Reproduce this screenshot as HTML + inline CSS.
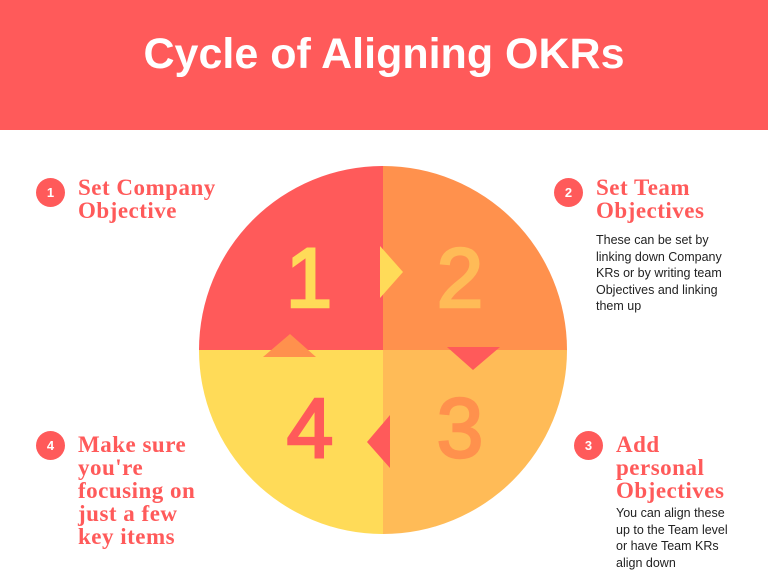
<!DOCTYPE html>
<html><head><meta charset="utf-8"><style>
body{margin:0;width:768px;height:576px;background:#fff;position:relative;overflow:hidden;font-family:"Liberation Sans",sans-serif}
.hdr{position:absolute;left:0;top:0;width:768px;height:130px;background:#ff5a5a}
.hdr h1{margin:0;position:absolute;top:30px;width:100%;text-align:center;color:#fff;font-size:43px;font-weight:bold}
.b{position:absolute;width:29px;height:29px;border-radius:50%;background:#ff5a5a;color:#fff;font-weight:bold;font-size:13px;text-align:center;line-height:29px}
.h{position:absolute;color:#ff5a5a;font-family:"Liberation Serif",serif;font-weight:bold;font-size:23px;line-height:23px;letter-spacing:0.5px}
.t{position:absolute;color:#222;font-size:12.5px;line-height:16.5px}
</style></head><body>
<div class="hdr"><h1>Cycle of Aligning OKRs</h1></div>
<svg style="position:absolute;left:0;top:0" width="768" height="576">
<path d="M383 350 L199 350 A184 184 0 0 1 383 166Z" fill="#ff5a5a"/>
<path d="M383 350 L383 166 A184 184 0 0 1 567 350Z" fill="#ff914d"/>
<path d="M383 350 L567 350 A184 184 0 0 1 383 534Z" fill="#ffbb57"/>
<path d="M383 350 L383 534 A184 184 0 0 1 199 350Z" fill="#ffdb58"/>
<polygon points="380,246 403,272 380,298" fill="#ffdb58"/>
<polygon points="447,347 500,347 473,370" fill="#ff5a5a"/>
<polygon points="390,415 367,442 390,468" fill="#ff5a5a"/>
<polygon points="263,357 290,334 316,357" fill="#ff914d"/>
<g font-family="Liberation Sans,sans-serif" font-size="84" text-anchor="middle" stroke-width="2.5">
<text x="309" y="307" fill="#ffdb58" stroke="#ffdb58">1</text>
<text x="460" y="307" fill="#ffbb57" stroke="#ffbb57">2</text>
<text x="460" y="457" fill="#ff914d" stroke="#ff914d">3</text>
<text x="310" y="457" fill="#ff5a5a" stroke="#ff5a5a">4</text>
</g>
</svg>
<div class="b" style="left:36px;top:178px">1</div>
<div class="h" style="left:78px;top:176px">Set Company<br>Objective</div>
<div class="b" style="left:554px;top:178px">2</div>
<div class="h" style="left:596px;top:176px">Set Team<br>Objectives</div>
<div class="t" style="left:596px;top:232px">These can be set by<br>linking down Company<br>KRs or by writing team<br>Objectives and linking<br>them up</div>
<div class="b" style="left:36px;top:431px">4</div>
<div class="h" style="left:78px;top:433px">Make sure<br>you're<br>focusing on<br>just a few<br>key items</div>
<div class="b" style="left:574px;top:431px">3</div>
<div class="h" style="left:616px;top:433px">Add<br>personal<br>Objectives</div>
<div class="t" style="left:616px;top:505px">You can align these<br>up to the Team level<br>or have Team KRs<br>align down</div>
</body></html>
